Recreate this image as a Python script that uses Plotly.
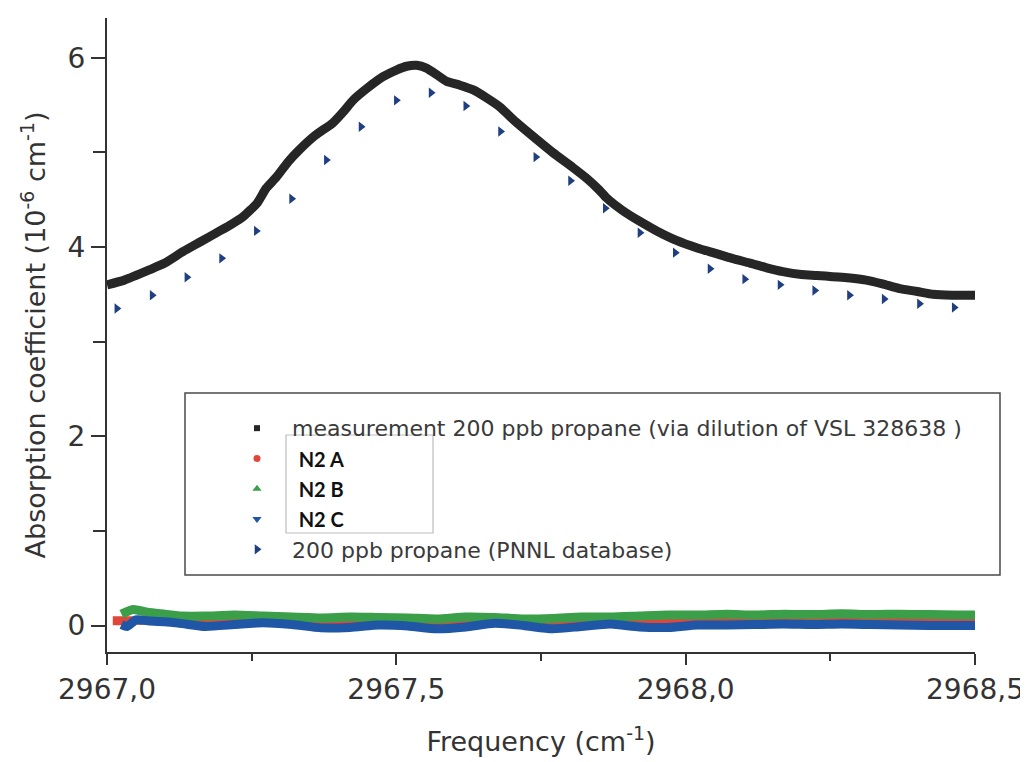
import plotly.graph_objects as go

# ---------------- data ----------------
meas_freq = [2967.000, 2967.030, 2967.074, 2967.100, 2967.131, 2967.160, 2967.189, 2967.215,
             2967.235, 2967.259, 2967.275, 2967.293, 2967.313, 2967.333, 2967.360, 2967.390,
             2967.410, 2967.425, 2967.450, 2967.477, 2967.500, 2967.518, 2967.535, 2967.552,
             2967.570, 2967.587, 2967.610, 2967.633, 2967.655, 2967.679, 2967.705, 2967.736,
             2967.770, 2967.805, 2967.830, 2967.851, 2967.863, 2967.890, 2967.921, 2967.950,
             2967.984, 2968.020, 2968.053, 2968.080, 2968.111, 2968.140, 2968.168, 2968.200,
             2968.226, 2968.270, 2968.312, 2968.340, 2968.370, 2968.400, 2968.427, 2968.460,
             2968.500]
meas_abs = [3.60, 3.65, 3.76, 3.83, 3.95, 4.05, 4.15, 4.24,
            4.32, 4.46, 4.62, 4.74, 4.90, 5.03, 5.18, 5.31,
            5.44, 5.55, 5.68, 5.80, 5.87, 5.91, 5.92, 5.89,
            5.82, 5.75, 5.71, 5.66, 5.58, 5.48, 5.33, 5.17,
            5.00, 4.84, 4.72, 4.60, 4.52, 4.39, 4.27, 4.17,
            4.07, 3.99, 3.93, 3.88, 3.83, 3.78, 3.74, 3.71,
            3.70, 3.68, 3.65, 3.61, 3.56, 3.53, 3.50, 3.49,
            3.49]

pnnl_freq = [2967.017, 2967.078, 2967.138, 2967.198, 2967.258, 2967.319, 2967.379, 2967.439,
             2967.500, 2967.560, 2967.620, 2967.680, 2967.741, 2967.801, 2967.861, 2967.921,
             2967.982, 2968.042, 2968.102, 2968.163, 2968.223, 2968.283, 2968.343, 2968.404,
             2968.464]
pnnl_abs = [3.35, 3.49, 3.68, 3.88, 4.17, 4.51, 4.92, 5.27,
            5.55, 5.63, 5.49, 5.22, 4.95, 4.70, 4.41, 4.15,
            3.94, 3.77, 3.66, 3.60, 3.54, 3.49, 3.45, 3.40,
            3.36]

n2a_freq = [2967.01, 2967.04, 2967.07, 2967.12, 2967.17, 2967.22, 2967.27, 2967.32,
            2967.37, 2967.42, 2967.47, 2967.52, 2967.57, 2967.62, 2967.67, 2967.72,
            2967.77, 2967.82, 2967.87, 2967.92, 2967.97, 2968.02, 2968.07, 2968.12,
            2968.17, 2968.22, 2968.27, 2968.32, 2968.37, 2968.42, 2968.47, 2968.50]
n2a_abs = [0.05, 0.05, 0.06, 0.04, 0.03, 0.04, 0.05, 0.04,
           0.03, 0.03, 0.04, 0.03, 0.02, 0.03, 0.05, 0.03,
           0.02, 0.03, 0.04, 0.03, 0.03, 0.04, 0.05, 0.045,
           0.05, 0.05, 0.05, 0.05, 0.05, 0.05, 0.05, 0.05]

n2b_freq = [2967.025, 2967.045, 2967.07, 2967.10, 2967.13, 2967.17, 2967.22, 2967.27,
            2967.32, 2967.37, 2967.42, 2967.47, 2967.52, 2967.57, 2967.62, 2967.67,
            2967.72, 2967.77, 2967.82, 2967.87, 2967.92, 2967.97, 2968.02, 2968.07,
            2968.12, 2968.17, 2968.22, 2968.27, 2968.32, 2968.37, 2968.42, 2968.47,
            2968.50]
n2b_abs = [0.12, 0.17, 0.14, 0.12, 0.10, 0.10, 0.11, 0.10,
           0.09, 0.08, 0.09, 0.085, 0.08, 0.07, 0.09, 0.085,
           0.07, 0.075, 0.09, 0.09, 0.10, 0.11, 0.11, 0.12,
           0.11, 0.12, 0.115, 0.125, 0.115, 0.12, 0.115, 0.11,
           0.11]

n2c_freq = [2967.025, 2967.035, 2967.05, 2967.07, 2967.10, 2967.13, 2967.17, 2967.22,
            2967.27, 2967.32, 2967.37, 2967.42, 2967.47, 2967.52, 2967.57, 2967.62,
            2967.67, 2967.72, 2967.77, 2967.82, 2967.87, 2967.92, 2967.97, 2968.02,
            2968.07, 2968.12, 2968.17, 2968.22, 2968.27, 2968.32, 2968.37, 2968.42,
            2968.47, 2968.50]
n2c_abs = [0.01, -0.01, 0.06, 0.05, 0.04, 0.02, -0.01, 0.01,
           0.03, 0.01, -0.025, -0.02, 0.005, -0.005, -0.035, -0.015,
           0.025, 0.0, -0.035, -0.01, 0.015, -0.015, -0.02, 0.005,
           0.005, 0.01, 0.015, 0.01, 0.015, 0.01, 0.005, 0.0,
           0.0, 0.0]

series_names = ["measurement 200 ppb propane (via dilution of VSL 328638 )",
                "N2 A", "N2 B", "N2 C",
                "200 ppb propane (PNNL database)"]

x_tick_vals = [2967.0, 2967.5, 2968.0, 2968.5]
x_tick_text = ["2967,0", "2967,5", "2968,0", "2968,5"]
y_tick_vals = [0, 2, 4, 6]
y_tick_text = ["0", "2", "4", "6"]

# ---------------- style ----------------
C_MEAS = "#262626"
C_A = "#e0473a"
C_B = "#3a9f48"
C_C = "#1f56a6"
C_P = "#1f3f80"
FONT = "DejaVu Sans"
AX = "#333333"


def main_label(t):
    return '<span style="font-size:22px">' + t + '</span>'


def pasted_label(t):
    return '\u00a0<span style="font-family:Lato;font-size:20px;color:#111111"><b>' + t + '</b></span>'


legend_labels = [main_label(series_names[0]), pasted_label(series_names[1]), pasted_label(series_names[2]),
                 pasted_label(series_names[3]), main_label(series_names[4])]

fig = go.Figure()

# data lines (legend entries added separately)
fig.add_trace(go.Scatter(x=n2a_freq, y=n2a_abs, mode="lines", line=dict(color=C_A, width=9, shape="spline", smoothing=0.6),
                         showlegend=False, legendgroup="a", hoverinfo="skip"))
fig.add_trace(go.Scatter(x=n2b_freq, y=n2b_abs, mode="lines", line=dict(color=C_B, width=9, shape="spline", smoothing=0.6),
                         showlegend=False, legendgroup="b", hoverinfo="skip"))
fig.add_trace(go.Scatter(x=n2c_freq, y=n2c_abs, mode="lines", line=dict(color=C_C, width=9, shape="spline", smoothing=0.6),
                         showlegend=False, legendgroup="c", hoverinfo="skip"))
fig.add_trace(go.Scatter(x=meas_freq, y=meas_abs, mode="lines", line=dict(color=C_MEAS, width=9, shape="spline", smoothing=0.5),
                         showlegend=False, legendgroup="m", hoverinfo="skip"))

# legend entries
fig.add_trace(go.Scatter(x=[None], y=[None], mode="markers", name=legend_labels[0], legendgroup="m",
                         marker=dict(symbol="square", size=6, color=C_MEAS)))
fig.add_trace(go.Scatter(x=[None], y=[None], mode="markers", name=legend_labels[1], legendgroup="a",
                         marker=dict(symbol="circle", size=7, color=C_A)))
fig.add_trace(go.Scatter(x=[None], y=[None], mode="markers", name=legend_labels[2], legendgroup="b",
                         marker=dict(symbol="triangle-up", size=8, color=C_B)))
fig.add_trace(go.Scatter(x=[None], y=[None], mode="markers", name=legend_labels[3], legendgroup="c",
                         marker=dict(symbol="triangle-down", size=8, color=C_C)))
fig.add_trace(go.Scatter(x=pnnl_freq, y=pnnl_abs, mode="markers", name=legend_labels[4],
                         marker=dict(symbol="triangle-right", size=9, color=C_P)))

# page body has an 8px margin: the figure is sized so the plot lands where it should in the window
OFF = 8
L, R, T, B = 107 - OFF, 53, 18 - OFF, 110
W, H = 1028 - OFF, 762 - OFF
PW, PH = W - L - R, H - T - B


def px(xpix):
    return (xpix - OFF - L) / PW


def py(ypix):
    return (H - B - (ypix - OFF)) / PH


shapes = [
    dict(type="rect", xref="paper", yref="paper", x0=px(185), x1=px(1000), y0=py(575), y1=py(393),
         line=dict(color="#4a4a4a", width=1.5), fillcolor="rgba(0,0,0,0)", layer="above"),
    dict(type="rect", xref="paper", yref="paper", x0=px(286), x1=px(433), y0=py(533), y1=py(435),
         line=dict(color="#bdbdbd", width=1.2), fillcolor="white", layer="above"),
]

fig.update_layout(
    width=W, height=H,
    margin=dict(l=L, r=R, t=T, b=B, pad=0, autoexpand=False),
    paper_bgcolor="white", plot_bgcolor="white",
    font=dict(family=FONT, color="#333333"),
    shapes=shapes,
    legend=dict(x=px(222), y=py(408), xanchor="left", yanchor="top", bgcolor="rgba(0,0,0,0)",
                borderwidth=0, itemwidth=60, font=dict(family=FONT, size=21, color="#3a3a3a"),
                traceorder="normal"),
    xaxis=dict(range=[2967.0, 2968.5], showline=True, linecolor=AX, linewidth=2, showgrid=False, zeroline=False,
               automargin=False,
               ticks="outside", ticklen=11, tickwidth=2, tickcolor=AX,
               tickvals=x_tick_vals, ticktext=x_tick_text, tickfont=dict(family=FONT, size=28, color="#333333"),
               minor=dict(dtick=0.25, tick0=2967.0, ticks="outside", ticklen=7, tickwidth=2, tickcolor=AX, showgrid=False),
               title=dict(text="Frequency (cm<sup>-1</sup>)", font=dict(family=FONT, size=27, color="#333333"), standoff=28)),
    yaxis=dict(range=[-0.28, 6.42], showline=True, linecolor=AX, linewidth=2, showgrid=False, zeroline=False,
               automargin=False,
               ticks="outside", ticklen=14, tickwidth=2, tickcolor=AX,
               tickvals=y_tick_vals, ticktext=y_tick_text, tickfont=dict(family=FONT, size=28, color="#333333"),
               minor=dict(dtick=1, tick0=0, ticks="outside", ticklen=12, tickwidth=2, tickcolor=AX, showgrid=False),
               title=dict(text="Absorption coefficient (10<sup>-6</sup> cm<sup>-1</sup>)",
                          font=dict(family=FONT, size=27, color="#333333"), standoff=14)),
)

fig.write_html("out.html")
